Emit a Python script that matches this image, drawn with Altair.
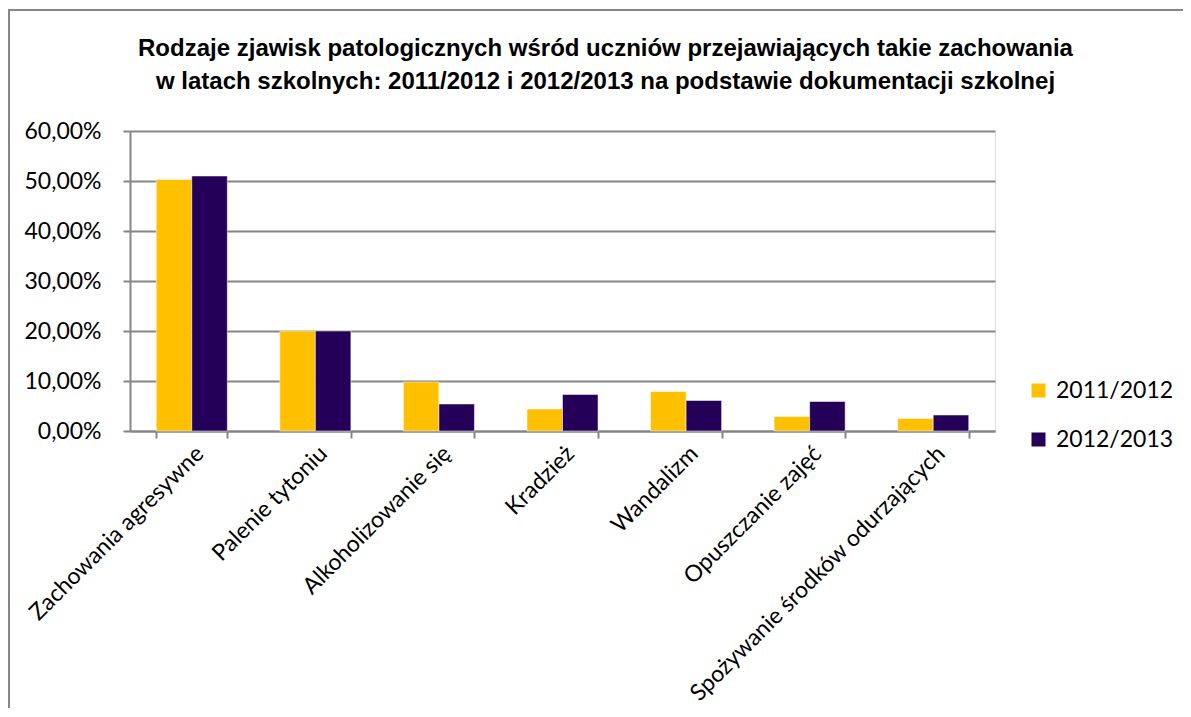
import altair as alt
import pandas as pd

categories = ["Zachowania agresywne", "Palenie tytoniu", "Alkoholizowanie się", "Kradzież",
              "Wandalizm", "Opuszczanie zajęć", "Spożywanie środków odurzających"]
series = ["2011/2012", "2012/2013"]
v_2011 = [0.503, 0.200, 0.098, 0.044, 0.079, 0.029, 0.025]
v_2012 = [0.510, 0.200, 0.054, 0.073, 0.061, 0.059, 0.032]
colors = ["#FFC000", "#250059"]
y_ticks = [0, 0.1, 0.2, 0.3, 0.4, 0.5, 0.6]

rows = []
for c, a, b in zip(categories, v_2011, v_2012):
    rows.append({"kategoria": c, "rok": series[0], "wartosc": a})
    rows.append({"kategoria": c, "rok": series[1], "wartosc": b})
df = pd.DataFrame(rows)

GRAY = "#868686"
FONT = "Lato"

bars = alt.Chart(df).mark_bar(stroke="white", strokeWidth=0.5).encode(
    x=alt.X("kategoria:N", sort=categories, title=None,
            scale=alt.Scale(paddingInner=0.425, paddingOuter=0.2125),
            axis=alt.Axis(labelAngle=-45, labelAlign="right", labelBaseline="top",
                          labelPadding=4, tickBand="extent", tickSize=7,
                          tickColor=GRAY, tickWidth=2, domainColor=GRAY, domainWidth=2,
                          labelFont=FONT, labelFontSize=23, labelColor="black",
                          labelLimit=500, grid=False)),
    xOffset=alt.XOffset("rok:N", sort=series, scale=alt.Scale(paddingInner=0, paddingOuter=0)),
    y=alt.Y("wartosc:Q", title=None,
            scale=alt.Scale(domain=[0, 0.6], nice=False),
            axis=alt.Axis(values=y_ticks, grid=True, gridColor=GRAY, gridWidth=2,
                          domainColor=GRAY, domainWidth=2, tickColor=GRAY, tickWidth=2,
                          tickSize=7, labelPadding=22,
                          labelExpr="replace(format(datum.value, '.2%'), '.', ',')",
                          labelFont=FONT, labelFontSize=23, labelColor="black")),
    color=alt.Color("rok:N", sort=series, title=None,
                    scale=alt.Scale(domain=series, range=colors),
                    legend=alt.Legend(orient="none", legendX=897, legendY=248,
                                      symbolType="square", symbolSize=196,
                                      symbolStrokeWidth=0, labelFont=FONT,
                                      labelFontSize=23, labelColor="black",
                                      rowPadding=25, labelOffset=6)),
)

frame = alt.Chart(pd.DataFrame({"a": [0]})).mark_rect(
    fill=None, stroke=GRAY, strokeWidth=2
).encode(
    x=alt.value(-121), x2=alt.value(3000), y=alt.value(-121), y2=alt.value(3000)
)

chart = alt.layer(frame, bars).properties(
    width=865, height=300,
    autosize=alt.AutoSizeParams(type="none"),
    padding={"left": 122, "top": 123, "right": 188, "bottom": 277},
    title=alt.Title(
        ["Rodzaje zjawisk patologicznych wśród uczniów przejawiających takie zachowania",
         "w latach szkolnych: 2011/2012 i 2012/2013 na podstawie dokumentacji szkolnej"],
        font="Liberation Sans", fontSize=24, fontWeight="bold", color="black",
        anchor="middle", dx=43, offset=-85, lineHeight=33),
).configure_view(stroke=None).configure(background="white")

chart.save("out.html", embed_options={"renderer": "svg", "actions": False})
